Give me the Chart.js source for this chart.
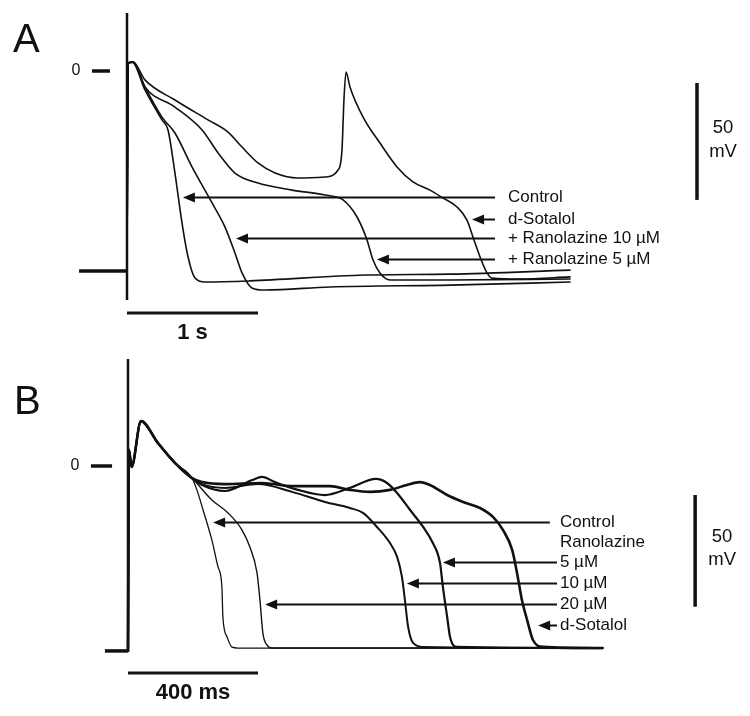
<!DOCTYPE html>
<html>
<head>
<meta charset="utf-8">
<script src="https://cdn.jsdelivr.net/npm/chart.js@4"></script>
<style>
html,body{margin:0;padding:0;background:#fff;}
#wrap{position:relative;width:750px;height:716px;background:#fff;}
canvas{position:absolute;left:0;}
</style>
</head>
<body>
<div id="wrap">
<canvas id="cA" width="750" height="340" style="top:0px"></canvas>
<canvas id="cB" width="750" height="376" style="top:340px"></canvas>
</div>
<script>
// ---------------- Panel A data (time in ms, membrane potential in mV) ----------------
const aControlT  = [0, 8, 40, 137, 267, 313, 366, 420, 466, 519, 595, 939, 1817, 2466, 3382];
const aControlV  = [-85.5, 3.4, 3.8, -8.1, -20.9, -25.2, -43.6, -65.0, -79.5, -88.5, -90.2, -89.7, -87.2, -86.8, -85.1];
const aRan10T    = [0, 8, 46, 137, 267, 366, 496, 649, 748, 824, 878, 954, 1053, 1550, 2466, 3382];
const aRan10V    = [-85.5, 3.4, 3.8, -6.8, -19.7, -26.5, -41.0, -56.4, -66.7, -77.8, -86.3, -92.7, -93.6, -92.3, -91.5, -90.2];
const aRan5T     = [0, 8, 46, 137, 366, 573, 695, 824, 1000, 1260, 1512, 1649, 1756, 1832, 1878, 1931, 2008, 2466, 3382];
const aRan5V     = [-85.5, 3.4, 3.8, -6.8, -15.4, -25.2, -35.0, -43.6, -47.9, -50.9, -53.0, -55.1, -62.4, -72.2, -80.8, -86.3, -89.3, -89.3, -88.9];
const aSotalolT  = [0, 8, 46, 137, 366, 618, 771, 878, 1000, 1130, 1305, 1512, 1611, 1641, 1656, 1672, 1702, 1802, 1931, 2061, 2183, 2313, 2412, 2519, 2595, 2641, 2695, 2748, 2786, 3000, 3382];
const aSotalolV  = [-85.5, 3.4, 3.8, -3.8, -12.4, -20.9, -26.1, -32.5, -39.3, -43.6, -45.7, -45.3, -42.3, -33.8, -12.4, -0.4, -6.8, -19.7, -30.8, -41.0, -47.4, -50.9, -54.3, -58.1, -63.7, -70.9, -79.5, -86.3, -88.5, -88.9, -88.0];
const aLabels    = ['Control', 'd-Sotalol', '+ Ranolazine 10 \u00B5M', '+ Ranolazine 5 \u00B5M'];
const aLabelMv   = [-53.8, -63.2, -71.4, -80.3];
const aArrowTip  = [427, 2634, 832, 1908];

// ---------------- Panel B data ----------------
const bStartT    = [0, 3, 11, 40, 92, 145, 197];
const bStartV    = [-82.8, 7.2, -0.4, 20.1, 10.3, 1.3, -5.4];
const bControlT  = [212, 231, 258, 277, 289, 292, 305, 320, 338, 1460];
const bControlV  = [-10.7, -19.7, -33.1, -45.2, -54.2, -67.6, -76.6, -81.1, -81.5, -81.5];
const b20T       = [258, 308, 351, 375, 397, 406, 415, 428, 443, 1460];
const b20V       = [-15.2, -21.0, -28.7, -36.3, -47.9, -60.0, -74.8, -80.2, -81.5, -81.5];
const b10T       = [228, 298, 400, 505, 606, 683, 723, 766, 806, 828, 843, 852, 862, 877, 908, 1460];
const b10V       = [-8.1, -9.8, -8.1, -11.6, -16.1, -18.8, -21.0, -27.3, -34.5, -40.7, -49.7, -60.0, -72.1, -79.2, -81.0, -81.5];
const b5T        = [228, 298, 382, 412, 452, 523, 606, 683, 763, 797, 828, 868, 908, 938, 960, 969, 982, 991, 1012, 1460];
const b5V        = [-8.5, -11.2, -6.3, -4.9, -7.2, -10.7, -13.0, -9.8, -5.8, -7.6, -12.1, -19.7, -27.3, -34.5, -43.4, -54.2, -67.6, -76.6, -81.0, -81.5];
const bSotalolT  = [228, 298, 412, 505, 622, 683, 745, 806, 858, 898, 929, 982, 1031, 1083, 1123, 1154, 1182, 1197, 1212, 1228, 1246, 1277, 1460];
const bSotalolV  = [-7.2, -8.1, -7.6, -9.0, -9.0, -10.7, -11.6, -10.7, -8.5, -7.2, -8.5, -13.0, -16.1, -18.8, -22.8, -28.7, -37.6, -47.9, -60.0, -68.9, -77.9, -81.0, -81.5];
const bLabels    = ['Control', 'Ranolazine', '5 \u00B5M', '10 \u00B5M', '20 \u00B5M', 'd-Sotalol'];
const bLabelMv   = [-25.1, -34.0, -43.0, -52.4, -61.8, -71.2];
const bArrowTip  = [262, null, 969, 858, 422, 1262];

// scale-bar values
const aTimeBar = 1000, aTimeBarText = '1 s';
const bTimeBar = 400,  bTimeBarText = '400 ms';
const mvBar = 50;

// ---------------- helpers ----------------
const pts = (t, v) => t.map((x, i) => ({x: x, y: v[i]}));
const INK = '#111';
const FONT = "'Liberation Sans', Arial, Helvetica, sans-serif";

function ds(t, v, w) {
  return {data: pts(t, v), borderColor: INK, borderWidth: w, fill: false,
          cubicInterpolationMode: 'monotone', pointRadius: 0, borderCapStyle: 'round', borderJoinStyle: 'round'};
}

function decor(cfg) {
  return {
    id: 'decor',
    afterDatasetsDraw(chart) {
      const ctx = chart.ctx, xs = chart.scales.x, ys = chart.scales.y;
      const X = v => xs.getPixelForValue(v), Y = v => ys.getPixelForValue(v);
      ctx.save();
      ctx.strokeStyle = INK; ctx.fillStyle = INK; ctx.lineCap = 'butt';
      const line = (t1, v1, t2, v2, w) => {
        ctx.lineWidth = w; ctx.beginPath(); ctx.moveTo(X(t1), Y(v1)); ctx.lineTo(X(t2), Y(v2)); ctx.stroke();
      };
      const text = (s, t, v, size, weight, align) => {
        ctx.font = (weight || 'normal') + ' ' + size + 'px ' + FONT;
        ctx.textAlign = align || 'left'; ctx.textBaseline = 'middle';
        ctx.fillText(s, X(t), Y(v));
      };
      // stimulus / upstroke axis line
      line(0, cfg.vTop, 0, cfg.vBottom, 2.5);
      // pre-stimulus resting baseline
      line(cfg.preStart, cfg.rest, 0, cfg.rest, 3.5);
      // zero tick and label
      line(cfg.zeroTick[0], 0, cfg.zeroTick[1], 0, 3.5);
      text('0', cfg.zeroLabelT, 0, 16, 'normal', 'center');
      // panel letter
      text(cfg.letter, cfg.letterT, cfg.letterV, 40, 'normal', 'left');
      // time scale bar
      line(0, cfg.timeBarV, cfg.timeBar, cfg.timeBarV, 3);
      text(cfg.timeBarText, cfg.timeBar / 2, cfg.timeBarTextV, 22, 'bold', 'center');
      // mV scale bar
      line(cfg.mvBarT, cfg.mvBarTop, cfg.mvBarT, cfg.mvBarTop - mvBar, 3.5);
      text(String(mvBar), cfg.mvTextT, cfg.mvTextV[0], 18.5, 'normal', 'center');
      text('mV', cfg.mvTextT, cfg.mvTextV[1], 18.5, 'normal', 'center');
      // labels with arrows
      cfg.labels.forEach((s, i) => {
        const v = cfg.levels[i];
        text(s, cfg.labelT, v + cfg.textShift, 17, 'normal', 'left');
        const tip = cfg.tips[i];
        if (tip === null) return;
        const tail = cfg.tails ? cfg.tails[i] : cfg.tail;
        const px = X(tip), py = Math.round(Y(v)) + 0.5;
        ctx.lineWidth = 2;
        ctx.beginPath(); ctx.moveTo(X(tail), py); ctx.lineTo(px + 8, py); ctx.stroke();
        ctx.beginPath(); ctx.moveTo(px, py); ctx.lineTo(px + 12, py - 5); ctx.lineTo(px + 12, py + 5); ctx.closePath(); ctx.fill();
      });
      ctx.restore();
    }
  };
}

function baseOptions(xmin, xmax, ymin, ymax) {
  return {
    responsive: false, animation: false, devicePixelRatio: 1,
    layout: {padding: 0},
    scales: {
      x: {type: 'linear', min: xmin, max: xmax, display: false},
      y: {type: 'linear', min: ymin, max: ymax, display: false}
    },
    plugins: {legend: {display: false}, tooltip: {enabled: false}},
    elements: {point: {radius: 0}}
  };
}

// ---------------- Panel A ----------------
new Chart(document.getElementById('cA'), {
  type: 'line',
  data: {datasets: [
    ds(aControlT, aControlV, 1.6),
    ds(aRan10T, aRan10V, 1.6),
    ds(aRan5T, aRan5V, 1.6),
    ds(aSotalolT, aSotalolV, 1.6)
  ]},
  options: baseOptions(-969.5, 4755.7, -114.96, 30.34),
  plugins: [decor({
    vTop: 24.8, vBottom: -97.9, rest: -85.5, preStart: -366,
    zeroTick: [-267, -130], zeroLabelT: -389,
    letter: 'A', letterT: -870, letterV: 12.8,
    timeBar: aTimeBar, timeBarV: -103.4, timeBarText: aTimeBarText, timeBarTextV: -112.0,
    mvBarT: 4351, mvBarTop: -5.1, mvTextT: 4550, mvTextV: [-24.4, -34.6],
    labels: aLabels, levels: aLabelMv, tips: aArrowTip, tail: 2809, labelT: 2908, textShift: 0
  })]
});

// ---------------- Panel B ----------------
const withStart = (t, v) => [bStartT.concat(t), bStartV.concat(v)];
const [bcT, bcV] = withStart(bControlT, bControlV);
const [b20tT, b20vV] = withStart(b20T, b20V);
const [b10tT, b10vV] = withStart(b10T, b10V);
const [b5tT, b5vV] = withStart(b5T, b5V);
const [bsT, bsV] = withStart(bSotalolT, bSotalolV);

new Chart(document.getElementById('cB'), {
  type: 'line',
  data: {datasets: [
    ds(bcT, bcV, 1.3),
    ds(b20tT, b20vV, 1.4),
    ds(b10tT, b10vV, 2.0),
    ds(b5tT, b5vV, 2.2),
    ds(bsT, bsV, 2.6)
  ]},
  options: baseOptions(-393.8, 1913.8, -111.93, 56.41),
  plugins: [decor({
    vTop: 47.9, vBottom: -83.3, rest: -82.8, preStart: -71,
    zeroTick: [-114, -49], zeroLabelT: -163,
    letter: 'B', letterT: -351, letterV: 28.2,
    timeBar: bTimeBar, timeBarV: -92.7, timeBarText: bTimeBarText, timeBarTextV: -101.6,
    mvBarT: 1745, mvBarTop: -13.0, mvTextT: 1828, mvTextV: [-31.8, -42.1],
    labels: bLabels, levels: bLabelMv, tips: bArrowTip,
    tails: [1298, null, 1320, 1320, 1320, 1320], labelT: 1329, textShift: 0
  })]
});
</script>
</body>
</html>
